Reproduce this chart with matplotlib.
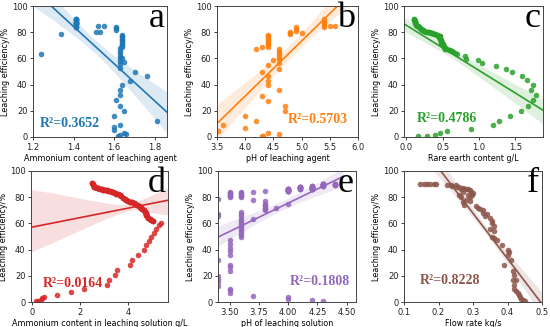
import numpy as np
import matplotlib
matplotlib.use("Agg")
import matplotlib.pyplot as plt
import seaborn as sns

# a) ammonium content of leaching agent: blob at 1.41 (overlapping) and the rest
a_blob_x = [1.41, 1.41, 1.41, 1.41, 1.41, 1.41]
a_blob_y = [90, 89, 88, 87, 86, 84]
a_rest_x = [1.24, 1.34, 1.51, 1.52, 1.53, 1.55,
            1.61, 1.61, 1.61,
            1.64, 1.64, 1.64, 1.64, 1.64, 1.64, 1.64, 1.64, 1.64, 1.64,
            1.63, 1.63, 1.63, 1.63, 1.63, 1.63, 1.63, 1.63, 1.64, 1.65,
            1.70, 1.68, 1.76, 1.64, 1.63, 1.63, 1.61, 1.63, 1.65, 1.60,
            1.60, 1.60, 1.63, 1.63, 1.65, 1.66, 1.62, 1.81]
a_rest_y = [63, 79, 80.5, 85, 80, 84.5,
            84, 83, 82,
            78, 77, 76, 75, 74, 73, 72, 71, 70, 69,
            68, 66, 64, 62, 60, 58, 56, 53, 60.5, 57,
            49.5, 43, 46.5, 39.5, 35.5, 32, 28, 23.5, 20, 16,
            7.5, 5, 9.5, 1.5, 3, 2, 0.5, 12.5]

# b) pH of leaching agent
b_x = [3.51, 3.60, 4.0, 4.0, 4.2, 4.2, 4.3, 4.3, 4.3, 4.3, 4.32,
       4.4, 4.4, 4.4, 4.4, 4.4, 4.4, 4.4, 4.4, 4.4, 4.4,
       4.4, 4.4, 4.4, 4.4, 4.4, 4.4, 4.5,
       4.6, 4.6, 4.6, 4.6, 4.6, 4.6, 4.6, 4.6, 4.6, 4.6,
       4.7, 4.7, 4.8, 4.8, 4.8, 4.9, 4.9, 4.9, 5.0,
       5.4, 5.4, 5.4, 5.4, 5.4, 5.5, 5.6]
b_y = [4.5, 9.5, 16, 6.5, 12.5, 67.5, 68.5, 49.5, 31.5, 1, 0.5,
       78, 77, 76, 75, 74, 73, 72, 71, 70, 69,
       54.7, 46.3, 43, 39.5, 27.5, 3, 58.5,
       67, 65.5, 64, 62.5, 61, 59.5, 56.5, 52.2, 35.6, 2,
       23.5, 19.6, 80.5, 78.5, 79.5, 84, 82.5, 81, 79.5,
       90, 88.5, 87, 85.5, 84, 84.5, 85]

# c) rare earth content: dense upper-left band (overlapping samples), rest of curve
c_band_x = [0.106, 0.11, 0.115, 0.12, 0.125, 0.13, 0.14, 0.15, 0.16, 0.17,
            0.185, 0.20, 0.217, 0.23, 0.25, 0.27, 0.30, 0.32, 0.346, 0.36,
            0.383, 0.40, 0.43, 0.44, 0.45, 0.46, 0.47, 0.475, 0.48, 0.485,
            0.49, 0.50, 0.51, 0.52, 0.53, 0.54]
c_band_y = [90.3, 89.5, 88.5, 88, 87, 86, 85.5, 85, 84.5, 84,
            83.5, 82.5, 82, 81.5, 80.7, 80.3, 80, 79.8, 79.6, 79.2,
            78.9, 78.5, 77.6, 77.2, 76, 76.8, 75, 74.3, 73, 71.8,
            72, 71, 70.5, 69, 67.4, 68]
c_rest_x = [0.56, 0.585, 0.60, 0.63, 0.65, 0.67, 0.70, 0.81,
            0.82, 0.99, 1.04, 1.24, 1.37, 1.45, 1.59, 1.66, 1.71, 1.74,
            1.78, 1.74, 1.68, 1.58, 1.43, 1.27, 1.19, 0.89, 0.554, 0.46,
            0.39, 0.28, 0.16]
c_rest_y = [67, 66.7, 66.2, 65.6, 65, 64.1, 63.5, 61.6,
            59.8, 58.5, 56.7, 54.5, 52.2, 49.4, 46.3, 43.3, 35.6, 39.4,
            31.8, 28, 23.9, 19.8, 15.8, 12.2, 8.9, 6.4, 4.3, 3.1,
            1.8, 0.8, 0.5]

# d) ammonium content in leaching solution: upper (dense, overlapping) and lower branch
d_up_x = [2.51, 2.52, 2.54, 2.58, 2.60, 2.68, 2.75, 2.82, 2.89, 2.96,
          3.03, 3.10, 3.17, 3.24, 3.31, 3.38, 3.45, 3.51, 3.58, 3.65,
          3.72, 3.79, 3.86, 3.93, 4.00, 4.10, 4.17, 4.24, 4.31, 4.38,
          4.44, 4.49, 4.55, 4.60, 4.65, 4.69, 4.73, 4.76, 4.80, 4.83,
          4.90, 4.97, 5.03]
d_up_y = [90.9, 90.2, 89.1, 87.8, 87.5, 87.1, 86.8, 86.6, 86.2, 85.8,
          85.5, 85.3, 85.0, 84.6, 84.3, 84.1, 83.5, 82.8, 82.2, 81.5,
          80.6, 79.7, 78.7, 77.7, 77.2, 76.5, 76.1, 75.7, 75.0, 74.4,
          73.5, 72.7, 71.8, 70.9, 69.9, 68.9, 67.6, 66.3, 65.3, 64.3,
          63.4, 62.5, 62.0]
d_lo_x = [0.15, 0.25, 0.35, 0.42, 0.49, 1.04, 1.61, 2.15, 3.10, 3.21,
          3.44, 3.54, 4.07, 4.18, 4.42, 4.65, 4.76, 4.88, 4.97, 5.07,
          5.18, 5.29, 5.39]
d_lo_y = [0.5, 1, 1.8, 3, 3.8, 5.1, 7.3, 9.9, 13.2, 16.5,
          20.8, 24.6, 28.4, 32.2, 35.9, 39.7, 43.5, 46.8, 49.9, 52.9,
          55.7, 58.7, 60.5]

# e) pH of leaching solution: left columns, and right high blobs (overlapping)
e_left_x = [3.4] * 8 + [3.5] * 18 + [3.6] * 19 + [3.7] * 4 + [3.8] * 8 + [3.9] * 1 \
           + [4.0, 4.0, 4.0, 4.2, 4.3]
e_left_y = [79, 67, 65.5, 32, 20, 17.5, 15, 12.5,
            84, 83.5, 83, 82.5, 81.7, 81, 80.4, 47, 44.5, 41.5, 39, 36, 28, 26.5,
            24, 10, 9, 7,
            84, 83.5, 83, 82, 81, 80.5, 68.7, 67, 65.5, 63, 61.5, 60, 58.5, 57,
            55.5, 54, 52.5, 51, 49.5,
            84, 78, 63.6, 4.6,
            84.5, 77, 75, 74, 73, 72, 71, 70,
            71.8,
            75, 3.8, 2.5, 1.3, 0.5]
e_blob_x = [4.0, 4.0, 4.0, 4.0, 4.0, 4.1, 4.1, 4.1, 4.1,
            4.2, 4.2, 4.2, 4.2, 4.2, 4.2, 4.3, 4.3, 4.3, 4.3, 4.3, 4.4, 4.4]
e_blob_y = [86.5, 86, 85.5, 85, 84.5, 88, 87.5, 87, 86.5,
            88.5, 88, 87.3, 87, 86.5, 86, 90, 89.5, 89, 88.5, 90, 90, 89.5]

# f) flow rate
f_x = [0.147, 0.157, 0.167, 0.176, 0.188, 0.194,
       0.224, 0.235, 0.24, 0.25, 0.255, 0.26, 0.265, 0.27, 0.275, 0.28,
       0.285, 0.29, 0.295, 0.298, 0.30, 0.29, 0.28, 0.27, 0.275, 0.265,
       0.26, 0.27, 0.285, 0.29,
       0.31, 0.315, 0.32, 0.33, 0.33, 0.335, 0.34,
       0.35, 0.355, 0.355, 0.36, 0.35, 0.36, 0.355, 0.36, 0.37,
       0.385, 0.40, 0.405, 0.40, 0.41, 0.39, 0.415, 0.42, 0.415, 0.425,
       0.418, 0.42, 0.425, 0.43, 0.433, 0.436, 0.44, 0.445, 0.45]
f_y = [90.3, 90.3, 90.3, 90.3, 90.3, 90.3,
       89.5, 89.5, 88.5, 89, 88, 87.5, 86, 87, 86.5, 86,
       86, 85.5, 84, 82, 83, 80, 78, 76, 74, 80,
       82, 84, 82, 77,
       73.5, 72, 71, 70, 68, 66, 67,
       64, 62, 60, 58, 56, 54, 50, 48.5, 47,
       43.5, 39.7, 38, 35.5, 32, 28, 24, 20.5, 16.5, 16.5,
       12.7, 10, 8.5, 7, 5, 3.8, 2.5, 1.3, 0.5]

# overlapping samples in the dense bands are drawn more than once
a_x = a_blob_x * 3 + a_rest_x
a_y = a_blob_y * 3 + a_rest_y
c_x = c_band_x * 2 + c_rest_x
c_y = c_band_y * 2 + c_rest_y
d_x = d_up_x * 3 + d_lo_x
d_y = d_up_y * 3 + d_lo_y
e_x = e_left_x + e_blob_x * 3
e_y = e_left_y + e_blob_y * 3

panels = [
    ("a", a_x, a_y, "Ammonium content of leaching agent", "R²=0.3652",
     (1.2, 1.86), [1.2, 1.4, 1.6, 1.8], ["1.2", "1.4", "1.6", "1.8"]),
    ("b", b_x, b_y, "pH of leaching agent", "R²=0.5703",
     (3.5, 6.0), [3.5, 4.0, 4.5, 5.0, 5.5, 6.0], ["3.5", "4.0", "4.5", "5.0", "5.5", "6.0"]),
    ("c", c_x, c_y, "Rare earth content g/L", "R²=0.4786",
     (-0.03, 1.88), [0.0, 0.5, 1.0, 1.5], ["0.0", "0.5", "1.0", "1.5"]),
    ("d", d_x, d_y, "Ammonium content in leaching solution g/L", "R²=0.0164",
     (-0.06, 5.67), [0, 2, 4], ["0", "2", "4"]),
    ("e", e_x, e_y, "pH of leaching solution", "R²=0.1808",
     (3.4, 4.58), [3.5, 3.75, 4.0, 4.25, 4.5], ["3.50", "3.75", "4.00", "4.25", "4.50"]),
    ("f", f_x, f_y, "Flow rate kg/s", "R²=0.8228",
     (0.1, 0.5), [0.1, 0.2, 0.3, 0.4, 0.5], ["0.1", "0.2", "0.3", "0.4", "0.5"]),
]

colors = ["#1f77b4", "#ff7f0e", "#2ca02c", "#d62728", "#9467bd", "#8c564b"]

# axes boxes in pixels: left, top, right, bottom
boxes = [(33, 6, 167, 137), (217, 6, 358, 137), (404, 6, 543, 137),
         (31, 171, 168, 302), (218, 171, 356, 302), (404, 171, 542, 302)]
r2_pos = [(0.05, 0.076), (0.50, 0.107), (0.094, 0.115),
          (0.088, 0.115), (0.52, 0.13), (0.116, 0.137)]

W, H = 550, 327
fig = plt.figure(figsize=(W / 100, H / 100), dpi=100)

for i, (tag, x, y, xl, r2, xlim, xt, xtl) in enumerate(panels):
    l, t, r, b = boxes[i]
    ax = fig.add_axes([l / W, 1 - b / H, (r - l) / W, (b - t) / H])
    # line range for panel e stops short of the right edge
    ax.set_xlim(xlim if tag != "e" else (3.4, 4.47))
    ax.set_ylim(0, 100)
    sns.regplot(x=np.array(x), y=np.array(y), ax=ax, color=colors[i],
                truncate=False, seed=0,
                scatter_kws=dict(s=16, alpha=0.85, linewidths=0),
                line_kws=dict(lw=1.2))
    ax.set_xlim(xlim)
    ax.set_ylim(0, 100)
    ax.set_xticks(xt)
    ax.set_xticklabels(xtl)
    ax.set_yticks([0, 20, 40, 60, 80, 100])
    ax.tick_params(labelsize=6, length=2.5, width=0.6, pad=1.5, colors="#222222")
    for s in ax.spines.values():
        s.set_linewidth(0.7)
        s.set_color("#444444")
    ax.set_xlabel(xl, fontsize=5.8, labelpad=1.5)
    ax.set_ylabel("Leaching efficiency/%", fontsize=5.8, labelpad=1.5)
    ax.text(0.98, 0.84, tag, transform=ax.transAxes, ha="right", va="baseline",
            fontsize=26, family="Liberation Serif")
    ax.text(r2_pos[i][0], r2_pos[i][1], r2, transform=ax.transAxes, ha="left",
            va="baseline", fontsize=10, fontweight="bold", color=colors[i],
            family="Liberation Serif")

fig.savefig("out.png", dpi=100)
